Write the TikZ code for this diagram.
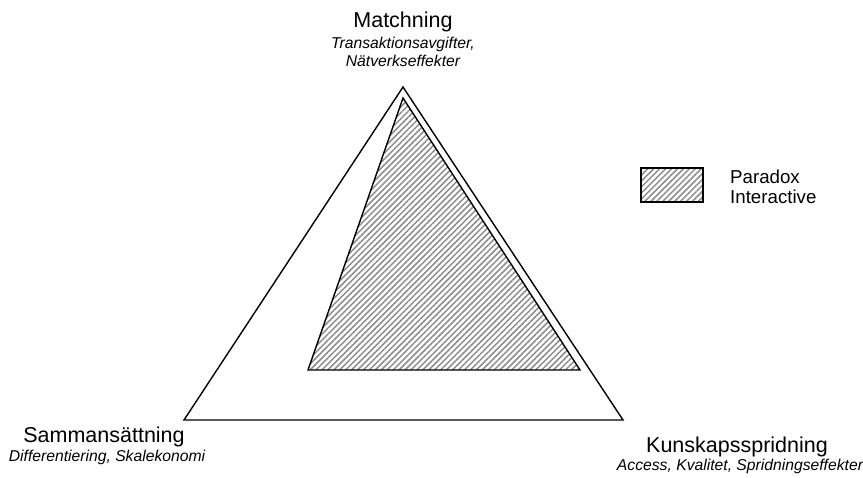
\documentclass[tikz,border=0pt]{standalone}
\usepackage{fontspec}
\setmainfont{Liberation Sans}
\usetikzlibrary{patterns.meta}
\begin{document}
\begin{tikzpicture}[x=1pt,y=-1pt,
  hatch/.style={pattern={Lines[angle=45,distance=4.2pt,line width=1.5pt]},pattern color=black!45},
  edge/.style={draw=black,line width=1.4pt,line join=miter},
  mainlbl/.style={font=\fontsize{21.5}{25}\selectfont,anchor=base,inner sep=0pt},
  sublbl/.style={font=\fontsize{15.7}{18}\selectfont\itshape,anchor=base,inner sep=0pt},
  leglbl/.style={font=\fontsize{18.7}{22}\selectfont,anchor=base west,inner sep=0pt}]
\useasboundingbox (0,0) rectangle (863,478);
% outer triangle
\coordinate (oA) at (403,87);
\coordinate (oB) at (184,420);
\coordinate (oC) at (623,420);
\draw[edge] (oA) -- (oB) -- (oC) -- cycle;
% inner triangle (Paradox Interactive)
\coordinate (iA) at (403,98);
\coordinate (iB) at (308,370);
\coordinate (iC) at (580,370);
\path[hatch] (iA) -- (iB) -- (iC) -- cycle;
\draw[edge] (iA) -- (iB) -- (iC) -- cycle;
% labels
\node[mainlbl] (match) at (403,28) {Matchning};
\node[sublbl] (match1) at (403,49) {Transaktionsavgifter,};
\node[sublbl] (match2) at (403,67) {Nätverkseffekter};
\node[mainlbl] (samm) at (104,443) {Sammansättning};
\node[sublbl] (samm1) at (107,461) {Differentiering, Skalekonomi};
\node[mainlbl] (kuns) at (737,453) {Kunskapsspridning};
\node[sublbl] (kuns1) at (740,471) {Access, Kvalitet, Spridningseffekter};
% legend
\node[hatch,draw=black,line width=1.4pt,minimum width=62pt,minimum height=34pt,inner sep=0pt] (legbox) at (672,185) {};
\node[leglbl] (leg1) at (730,184) {Paradox};
\node[leglbl] (leg2) at (730,204) {Interactive};
\end{tikzpicture}
\end{document}
